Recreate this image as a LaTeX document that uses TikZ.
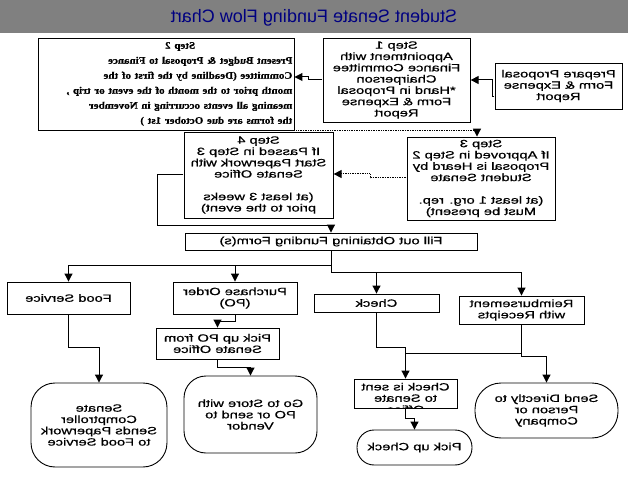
\documentclass[tikz,border=0pt]{standalone}
\usepackage{fontspec}
\setmainfont{Liberation Serif}[BoldFeatures={FakeBold=0.5}]
\newfontfamily\scansans[BoldFont=Liberation Sans,BoldFeatures={FakeBold=0.6}]{Liberation Sans}
\newfontfamily\titlesans{Liberation Sans}
\usetikzlibrary{arrows.meta}
\definecolor{bargray}{RGB}{128,128,128}
\definecolor{titleblue}{RGB}{0,0,128}
\newcommand\fullline[1]{\makebox[204pt][s]{#1}}

\begin{document}
\begin{tikzpicture}[x=1pt,y=-1pt,
  flip/.style={xscale=-1.4},
  box/.style={draw,flip,line width=0.9pt,inner sep=0pt,align=center,
    font=\scansans\bfseries\fontsize{10.5}{11.3}\selectfont},
  roundbox/.style={box,rounded corners=#1},
  serifbox/.style={draw,xscale=-1.1,line width=0.9pt,inner xsep=1.5pt,inner ysep=0pt,
    text width=229.7pt,align=left,minimum height=92pt,
    font=\rmfamily\bfseries\fontsize{10}{15}\selectfont},
  wire/.style={line width=1pt},
  link/.style={wire,-{Triangle[width=8pt,length=8pt]}},
  dotlink/.style={link,dash pattern=on 1pt off 0.7pt}]

% Slide
\fill[white] (0,0) rectangle (628,478);
\fill[bargray] (0,0) rectangle (628,33);
\useasboundingbox (0,0) rectangle (628,478);

%Title
\node[xscale=-1,anchor=base,text=titleblue,font=\titlesans\fontsize{18}{20}\selectfont] (title) at (314,22.5) {Student Senate Funding Flow Chart};

% Steps
\node[serifbox] (step2) at (166,84) {\makebox[204pt]{Step 2}\\\fullline{Present Budget \& Proposal to Finance}\\\fullline{Committee (Deadline by the first of the}\\\fullline{month prior to the month of the event or trip ,}\\\fullline{meaning all events occurring in November}\\\mbox{the forms are due October 1st )}};
\node[box,minimum width=105pt,minimum height=84pt] (step1) at (396.5,80) {Step 1\\Appointment with\\Finance Committee\\Chairperson\\*Hand in Proposal\\Form \& Expense\\Report};
\node[box,minimum width=90.7pt,minimum height=46pt] (prep) at (558.5,86) {Prepare Proposal\\Form \& Expense\\Report};
\node[box,minimum width=106.4pt,minimum height=86pt] (step4) at (258.5,175) {Step 4\\If Passed in Step 3\\Start Paperwork with\\Senate Office\\[11.3pt](at least 3 weeks\\prior to the event)};
\node[box,minimum width=105.7pt,minimum height=83pt] (step3) at (481,178.5) {Step 3\\If Approved in Step 2\\Proposal is Heard by\\Student Senate\\[11.3pt](at least 1 org. rep.\\Must be present)};
\node[box,minimum width=208.6pt,minimum height=17pt] (forms) at (331,241.5) {Fill out Obtaining Funding Form(s)};

% Ways of payment
\node[box,minimum width=87.9pt,minimum height=32pt] (food) at (68.5,298) {Food Service};
\node[box,minimum width=88.6pt,minimum height=32pt] (po) at (235,298) {Purchase Order\\(PO)};
\node[box,minimum width=89.3pt,minimum height=18pt] (check) at (376.5,303) {Check};
\node[box,minimum width=89.3pt,minimum height=28pt] (reimb) at (521.5,310) {Reimbursement\\with Receipts};
\node[box,minimum width=87.9pt,minimum height=31pt] (pickpo) at (217.5,343.5) {Pick up PO from\\Senate Office};

% Ends
\node[roundbox=24pt,minimum width=97.1pt,minimum height=84pt] (comp) at (99,425) {Senate\\Comptroller\\Sends Paperwork\\to Food Service};
\node[roundbox=22pt,minimum width=95pt,minimum height=77pt] (store) at (250.5,414.5) {Go to Store with\\PO or send to\\Vendor};
\node[box,minimum width=73.6pt,minimum height=29pt] (sent) at (405.5,393.5) {};
\begin{scope}
\clip (sent.south west) rectangle (sent.north east);
\node[box,draw=none] (senttext) at (405.5,398) {Check is sent\\to Senate\\Office};
\end{scope}
\node[roundbox=17pt,minimum width=82.1pt,minimum height=35pt] (pickchk) at (414.5,447.5) {Pick up Check};
\node[roundbox=26pt,minimum width=102.1pt,minimum height=55pt] (direct) at (546.5,410.5) {Send Directly to\\Person or\\Company};

%Arrows
\draw[link] (prep.east |- 0,97) -- (492,97) |- (step1.west |- 0,80);
\draw[link] (step1.east |- 0,80) -- (308,80) |- (step2.west |- 0,77);
\draw[dotlink] (step2.south west) -| (step3.north -| 477,0);
\draw[dotlink] (step3.east |- 0,178) -- (370,178) |- (step4.west |- 0,174);
\draw[link] (step4.east |- 0,175) -| (157,225) -| (forms.north);

\coordinate (splitA) at (forms.south |- 0,265);
\coordinate (splitB) at (forms.south |- 0,272);
\draw[link] (forms.south) -- (splitA) -| (food.north);
\draw[link] (splitA) -| (po.north);
\draw[link] (splitA) -- (splitB) -| (reimb.north);
\draw[link] (splitB) -| (check.north);

\draw[link] (food.south) -- (food.south |- 0,347) -| (comp.north);
\draw[link] (po.south) -- (po.south |- 0,321) -| (pickpo.north);
\draw[link] (pickpo.south) -- (pickpo.south |- 0,367) -| (store.north);
\draw[link] (check.south) -- (check.south |- 0,347) -| (sent.north);
\coordinate (reimbjoin) at (reimb.south |- 0,353);
\draw[wire] (reimb.south) -- (reimbjoin) -- (reimbjoin -| sent.north);
\draw[link] (reimbjoin) -- ++(0,3) -| (direct.north);
\draw[link] (sent.south) -- ++(0,10) -| (pickchk.north);
\end{tikzpicture}
\end{document}
